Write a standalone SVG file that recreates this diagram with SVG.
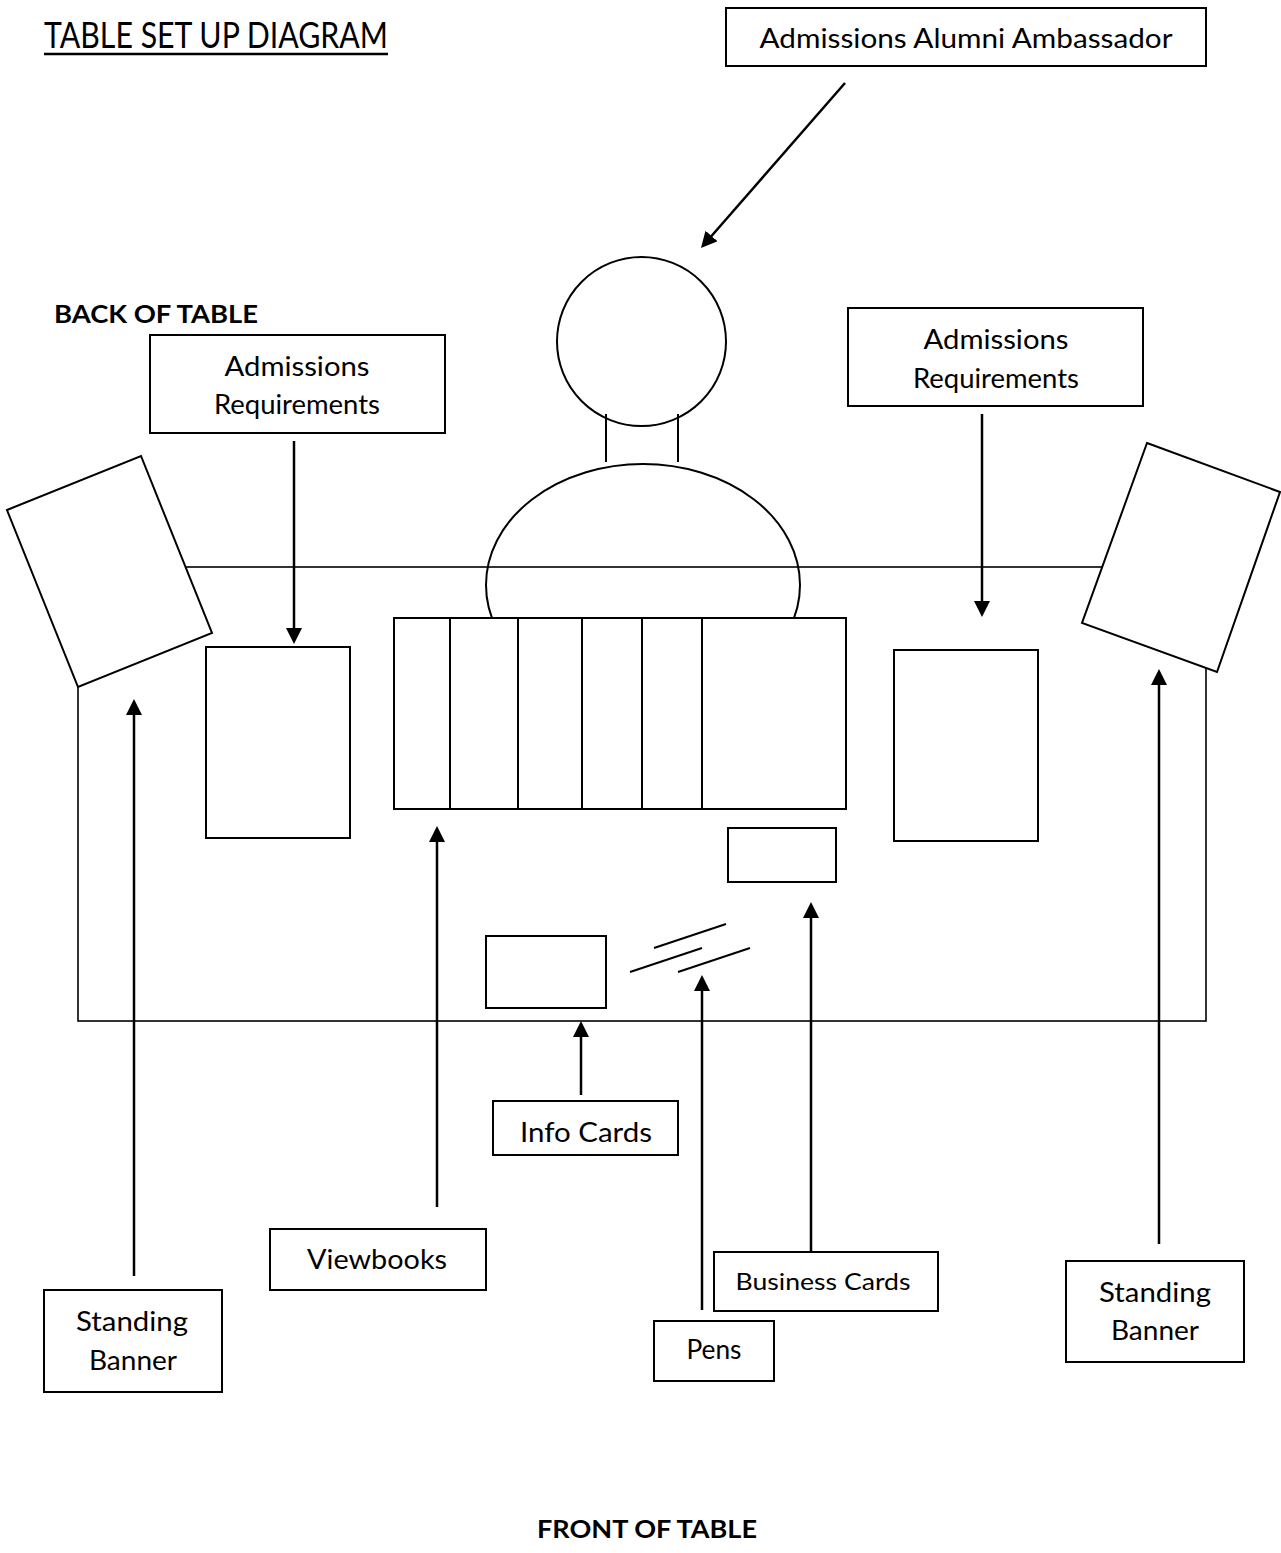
<svg xmlns="http://www.w3.org/2000/svg" width="1281" height="1553" viewBox="0 0 1281 1553">
<style>
.t{font-family:"Lato","Open Sans","Liberation Sans",sans-serif;font-size:27px;fill:#000}
.b{font-family:"Lato","Open Sans","Liberation Sans",sans-serif;font-size:25px;font-weight:bold;fill:#000}
.box{fill:#fff;stroke:#000;stroke-width:2}
.ln{fill:none;stroke:#000;stroke-width:2}
.thin{fill:none;stroke:#000;stroke-width:1.6}
.arr{fill:none;stroke:#000;stroke-width:2.5;marker-end:url(#ah)}
</style>
<defs>
<marker id="ah" markerUnits="userSpaceOnUse" markerWidth="17" markerHeight="17" refX="2" refY="8" orient="auto">
<path d="M0,0 L16,8 L0,16 z" fill="#000"/>
</marker>
</defs>
<rect width="1281" height="1553" fill="#fff"/>

<g id="title">
<text class="t" x="44" y="48" style="font-size:36px" textLength="344" lengthAdjust="spacingAndGlyphs">TABLE SET UP DIAGRAM</text>
<line x1="44" y1="54" x2="388" y2="54" stroke="#000" stroke-width="2.5"/>
</g>

<g id="table">
<rect class="thin" x="78" y="567" width="1128" height="454"/>
</g>

<g id="person">
<ellipse class="ln" cx="643" cy="585" rx="157" ry="121"/>
<circle class="ln" cx="641.5" cy="341.5" r="84.5"/>
<line class="ln" x1="606" y1="414" x2="606" y2="462"/>
<line class="ln" x1="678" y1="414" x2="678" y2="462"/>
</g>

<g id="viewbooks-stack">
<rect class="box" x="394" y="618" width="452" height="191"/>
<line class="ln" x1="450" y1="618" x2="450" y2="809"/>
<line class="ln" x1="518" y1="618" x2="518" y2="809"/>
<line class="ln" x1="582" y1="618" x2="582" y2="809"/>
<line class="ln" x1="642" y1="618" x2="642" y2="809"/>
<line class="ln" x1="702" y1="618" x2="702" y2="809"/>
</g>

<g id="banner-left">
<polygon class="box" points="7,510 141,456 212,633 78,687"/>
</g>
<g id="banner-right">
<polygon class="box" points="1147,443 1280,492 1217,672 1082,623"/>
</g>

<g id="requirements-left-item"><rect class="box" x="206" y="647" width="144" height="191"/></g>
<g id="requirements-right-item"><rect class="box" x="894" y="650" width="144" height="191"/></g>
<g id="business-cards-item"><rect class="box" x="728" y="828" width="108" height="54"/></g>
<g id="info-cards-item"><rect class="box" x="486" y="936" width="120" height="72"/></g>
<g id="pens-item">
<line class="ln" x1="654" y1="948" x2="726" y2="924"/>
<line class="ln" x1="630" y1="972" x2="702" y2="948"/>
<line class="ln" x1="678" y1="972" x2="750" y2="948"/>
</g>

<g id="label-ambassador">
<rect class="box" x="726" y="8" width="480" height="58"/>
<text class="t" x="966" y="48" text-anchor="middle" textLength="413" lengthAdjust="spacingAndGlyphs">Admissions Alumni Ambassador</text>
</g>

<g id="label-back">
<text class="b" x="54" y="323" textLength="204" lengthAdjust="spacingAndGlyphs">BACK OF TABLE</text>
</g>

<g id="label-requirements-left">
<rect class="box" x="150" y="335" width="295" height="98"/>
<text class="t" x="297" y="376" text-anchor="middle" textLength="145" lengthAdjust="spacingAndGlyphs">Admissions</text>
<text class="t" x="297" y="414" text-anchor="middle" textLength="166" lengthAdjust="spacingAndGlyphs">Requirements</text>
</g>

<g id="label-requirements-right">
<rect class="box" x="848" y="308" width="295" height="98"/>
<text class="t" x="996" y="349" text-anchor="middle" textLength="145" lengthAdjust="spacingAndGlyphs">Admissions</text>
<text class="t" x="996" y="388" text-anchor="middle" textLength="166" lengthAdjust="spacingAndGlyphs">Requirements</text>
</g>

<g id="label-info-cards">
<rect class="box" x="493" y="1101" width="185" height="54"/>
<text class="t" x="586" y="1142" text-anchor="middle" textLength="132" lengthAdjust="spacingAndGlyphs">Info Cards</text>
</g>

<g id="label-viewbooks">
<rect class="box" x="270" y="1229" width="216" height="61"/>
<text class="t" x="377" y="1269" text-anchor="middle" textLength="140" lengthAdjust="spacingAndGlyphs">Viewbooks</text>
</g>

<g id="label-business-cards">
<rect class="box" x="714" y="1252" width="224" height="59"/>
<text class="t" x="823" y="1290" text-anchor="middle" style="font-size:24px" textLength="175" lengthAdjust="spacingAndGlyphs">Business Cards</text>
</g>

<g id="label-pens">
<rect class="box" x="654" y="1321" width="120" height="60"/>
<text class="t" x="714" y="1359" text-anchor="middle" textLength="55" lengthAdjust="spacingAndGlyphs">Pens</text>
</g>

<g id="label-banner-left">
<rect class="box" x="44" y="1290" width="178" height="102"/>
<text class="t" x="132" y="1331" text-anchor="middle" textLength="112" lengthAdjust="spacingAndGlyphs">Standing</text>
<text class="t" x="133" y="1370" text-anchor="middle" textLength="88" lengthAdjust="spacingAndGlyphs">Banner</text>
</g>

<g id="label-banner-right">
<rect class="box" x="1066" y="1261" width="178" height="101"/>
<text class="t" x="1155" y="1302" text-anchor="middle" textLength="112" lengthAdjust="spacingAndGlyphs">Standing</text>
<text class="t" x="1155" y="1340" text-anchor="middle" textLength="88" lengthAdjust="spacingAndGlyphs">Banner</text>
</g>

<g id="label-front">
<text class="b" x="647" y="1538" text-anchor="middle" textLength="220" lengthAdjust="spacingAndGlyphs">FRONT OF TABLE</text>
</g>

<g id="connectors">
<line class="arr" x1="845" y1="83" x2="710.2" y2="237.5"/>
<line class="arr" x1="294" y1="441" x2="294" y2="630"/>
<line class="arr" x1="982" y1="414" x2="982" y2="603"/>
<line class="arr" x1="134" y1="1276" x2="134" y2="713"/>
<line class="arr" x1="437" y1="1207" x2="437" y2="840"/>
<line class="arr" x1="581" y1="1095" x2="581" y2="1035"/>
<line class="arr" x1="702" y1="1310" x2="702" y2="989"/>
<line class="arr" x1="811" y1="1252" x2="811" y2="916"/>
<line class="arr" x1="1159" y1="1244" x2="1159" y2="683"/>
</g>
</svg>
